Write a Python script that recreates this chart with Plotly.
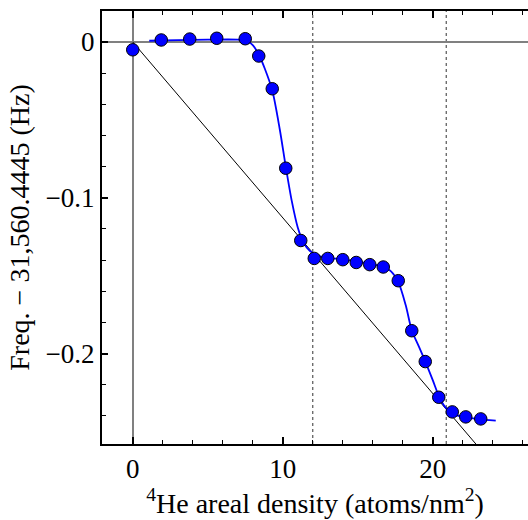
import plotly.graph_objects as go

# Measured frequency shift vs. 4He areal density
density = [0.0, 1.9, 3.8, 5.6, 7.5, 8.4, 9.3, 10.2, 11.2, 12.1, 13.0, 14.0, 14.9,
           15.8, 16.7, 17.7, 18.6, 19.5, 20.4, 21.3, 22.2, 23.2]
freq_shift = [-0.005, 0.0013, 0.0019, 0.0024, 0.0021, -0.009, -0.030, -0.081, -0.1274,
              -0.1389, -0.1389, -0.1397, -0.1415, -0.1429, -0.1444, -0.1532, -0.1853,
              -0.2051, -0.228, -0.2374, -0.2406, -0.2419]

# Smooth fit curve through the data
fit_x = [1.1, 3.0, 5.0, 7.0, 7.6, 8.0, 8.4, 8.8, 9.3, 9.8, 10.2, 10.6, 11.0, 11.4,
         11.8, 12.3, 13.0, 14.0, 15.0, 16.0, 16.7, 17.2, 17.7, 18.2, 18.6, 19.1, 19.5,
         20.0, 20.4, 20.8, 21.3, 22.0, 23.0, 24.2]
fit_y = [0.0008, 0.0012, 0.0015, 0.0015, 0.0008, -0.002, -0.008, -0.017, -0.031,
         -0.056, -0.080, -0.102, -0.119, -0.129, -0.134, -0.137, -0.1385, -0.1395,
         -0.141, -0.1425, -0.1445, -0.147, -0.154, -0.169, -0.185, -0.196, -0.205,
         -0.217, -0.227, -0.234, -0.2385, -0.2405, -0.242, -0.243]

# Linear mass-loading reference line
ref_x = [0.0, 23.0]
ref_y = [0.0, -0.2594]

# Layer completion densities
layer_marks = [12.0, 20.9]

FONT = "Liberation Serif, Times New Roman, serif"

fig = go.Figure()

fig.add_trace(go.Scatter(x=ref_x, y=ref_y, mode="lines",
                         line=dict(color="black", width=1), hoverinfo="skip"))
fig.add_trace(go.Scatter(x=fit_x, y=fit_y, mode="lines",
                         line=dict(color="#0000ff", width=1.8, shape="spline", smoothing=0.8),
                         hoverinfo="skip"))
fig.add_trace(go.Scatter(x=density, y=freq_shift, mode="markers",
                         marker=dict(size=12.5, color="#0000ff",
                                     line=dict(color="black", width=1))))

for xv in layer_marks:
    fig.add_shape(type="line", x0=xv, x1=xv, y0=0, y1=1, xref="x", yref="paper",
                  line=dict(color="#555555", width=1.2, dash="3px,3px"), layer="below")

fig.update_layout(
    width=528, height=520,
    margin=dict(l=102, r=0, t=11, b=76),
    paper_bgcolor="white", plot_bgcolor="white",
    showlegend=False,
    font=dict(family=FONT, size=27, color="black"),
)

fig.update_xaxes(
    range=[-2.05, 26.35],
    tickvals=[0, 10, 20], ticktext=["0", "10", "20"],
    ticks="inside", ticklen=7, tickwidth=1.5, tickcolor="black",
    minor=dict(dtick=2, tick0=0, ticks="inside", ticklen=4, tickwidth=1.2, tickcolor="black"),
    showline=True, linecolor="black", linewidth=2, mirror="ticks",
    showgrid=False,
    zeroline=True, zerolinecolor="#808080", zerolinewidth=1.5,
    tickfont=dict(family=FONT, size=27),
    title=dict(text="<sup>4</sup>He areal density (atoms/nm<sup>2</sup>)",
               font=dict(family=FONT, size=28), standoff=2),
)

fig.update_yaxes(
    range=[-0.258, 0.0199],
    tickvals=[0, -0.1, -0.2], ticktext=["0", "\u22120.1", "\u22120.2"],
    ticks="inside", ticklen=6, tickwidth=1.5, tickcolor="black",
    minor=dict(dtick=0.02, tick0=0, ticks="inside", ticklen=4, tickwidth=1.2, tickcolor="black"),
    showline=True, linecolor="black", linewidth=2, mirror=False,
    showgrid=False,
    zeroline=True, zerolinecolor="#808080", zerolinewidth=1.5,
    tickfont=dict(family=FONT, size=27),
    title=dict(text="Freq. \u2212 31,560.4445 (Hz)",
               font=dict(family=FONT, size=28), standoff=8),
)

fig.write_html("out.html")
